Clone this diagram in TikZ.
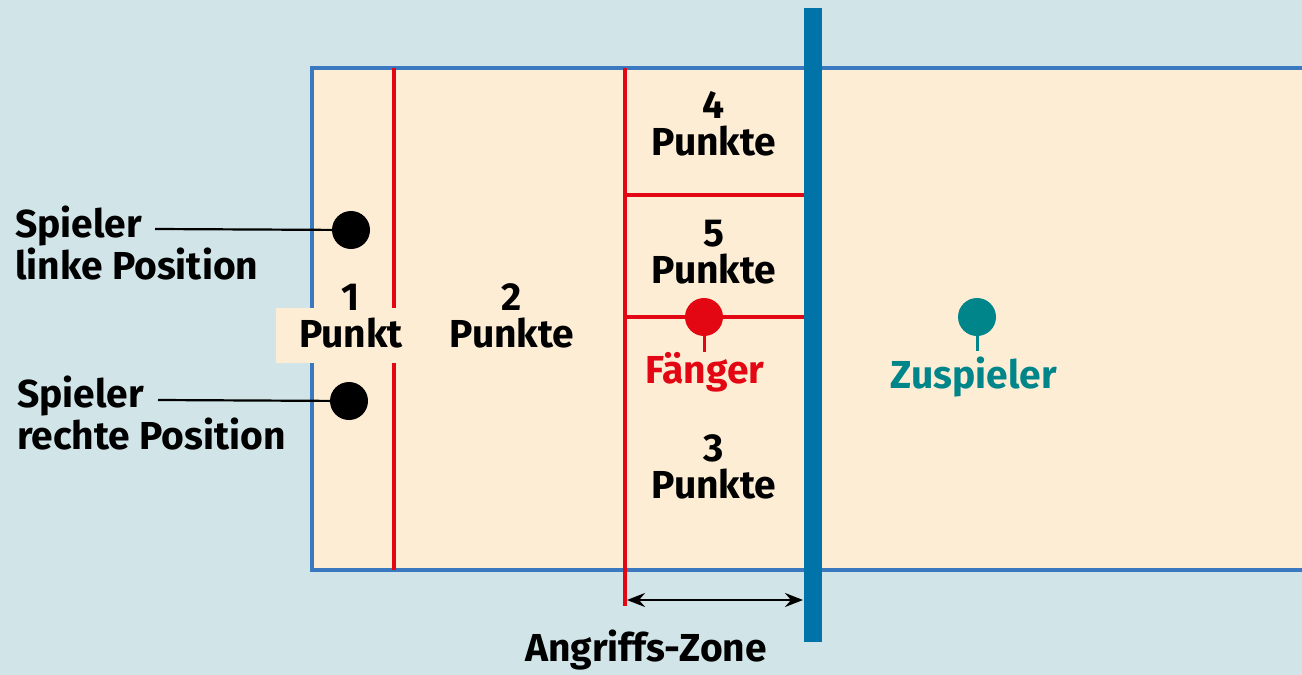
\documentclass[tikz,border=0pt]{standalone}
\usepackage{fontspec}
\setmainfont{Fira Sans}
\usetikzlibrary{arrows.meta}
\definecolor{bgc}{HTML}{D1E5E9}
\definecolor{court}{HTML}{FDEDD5}
\definecolor{cborder}{HTML}{3A78BF}
\definecolor{netc}{HTML}{0074A8}
\definecolor{redc}{HTML}{E30613}
\definecolor{tealc}{HTML}{00868A}
\tikzset{
  bigfont/.style={font=\fontsize{39}{37}\selectfont\bfseries},
  lbl/.style={bigfont, align=center, inner sep=0pt},
  sidelbl/.style={bigfont, align=left, inner sep=0pt, anchor=west},
  redline/.style={draw=redc, line width=4pt},
  player/.style={circle, fill=black, minimum size=38pt, inner sep=0pt},
}
\begin{document}
\begin{tikzpicture}[x=1pt,y=-1pt]
\useasboundingbox (0,0) rectangle (1302,675);
\fill[bgc] (0,0) rectangle (1302,675);
% court
\fill[court] (312,68) rectangle (1310,570);
\draw[cborder, line width=4pt] (1310,68) -- (312,68) -- (312,570) -- (1310,570);
% red lines
\draw[redline] (394,68) -- (394,570);
\draw[redline] (625,68) -- (625,606);
\draw[redline] (625,195) -- (806,195);
\draw[redline] (625,317) -- (806,317);
% 1 Punkt box
\fill[court] (276,308) rectangle (410,363);
% net
\fill[netc] (804,8) rectangle (822,642);
% zone labels
\node[lbl] (z1) at (351,316) {1\\Punkt};
\node[lbl] (z2) at (512,316) {2\\Punkte};
\node[lbl] (z4) at (714,124) {4\\Punkte};
\node[lbl] (z5) at (714,252) {5\\Punkte};
\node[lbl] (z3) at (714,467) {3\\Punkte};
% players
\node[player] (pl) at (351,230) {};
\node[player] (pr) at (349,401) {};
\node[sidelbl] (tl) at (15,243) {Spieler\\linke Position};
\node[sidelbl] (tr) at (17,413) {Spieler\\rechte Position};
\coordinate (cl) at (155,229);
\coordinate (cr) at (158,400);
\draw[line width=2.2pt] (cl) -- (pl);
\draw[line width=2.2pt] (cr) -- (pr);
% catcher
\node[circle, fill=redc, minimum size=38pt, inner sep=0pt] (f) at (704,317) {};
\node[bigfont, text=redc, inner sep=0pt] (ft) at (705,372) {Fänger};
\coordinate (fs) at (704,352);
\draw[redc, line width=3pt] (f.south) -- (fs);
% setter
\node[circle, fill=tealc, minimum size=38pt, inner sep=0pt] (s) at (977,317) {};
\node[bigfont, text=tealc, inner sep=0pt] (st) at (974,377) {Zuspieler};
\coordinate (ss) at (977,351);
\draw[tealc, line width=3pt] (s.south) -- (ss);
% attack zone
\coordinate (a1) at (627,600);
\coordinate (a2) at (803,600);
\draw[line width=2.4pt, {Stealth[length=18pt,width=14pt,inset=6pt]}-{Stealth[length=18pt,width=14pt,inset=6pt]}] (a1) -- (a2);
\node[bigfont, inner sep=0pt] (az) at (646,650) {Angriffs-Zone};
\end{tikzpicture}
\end{document}
